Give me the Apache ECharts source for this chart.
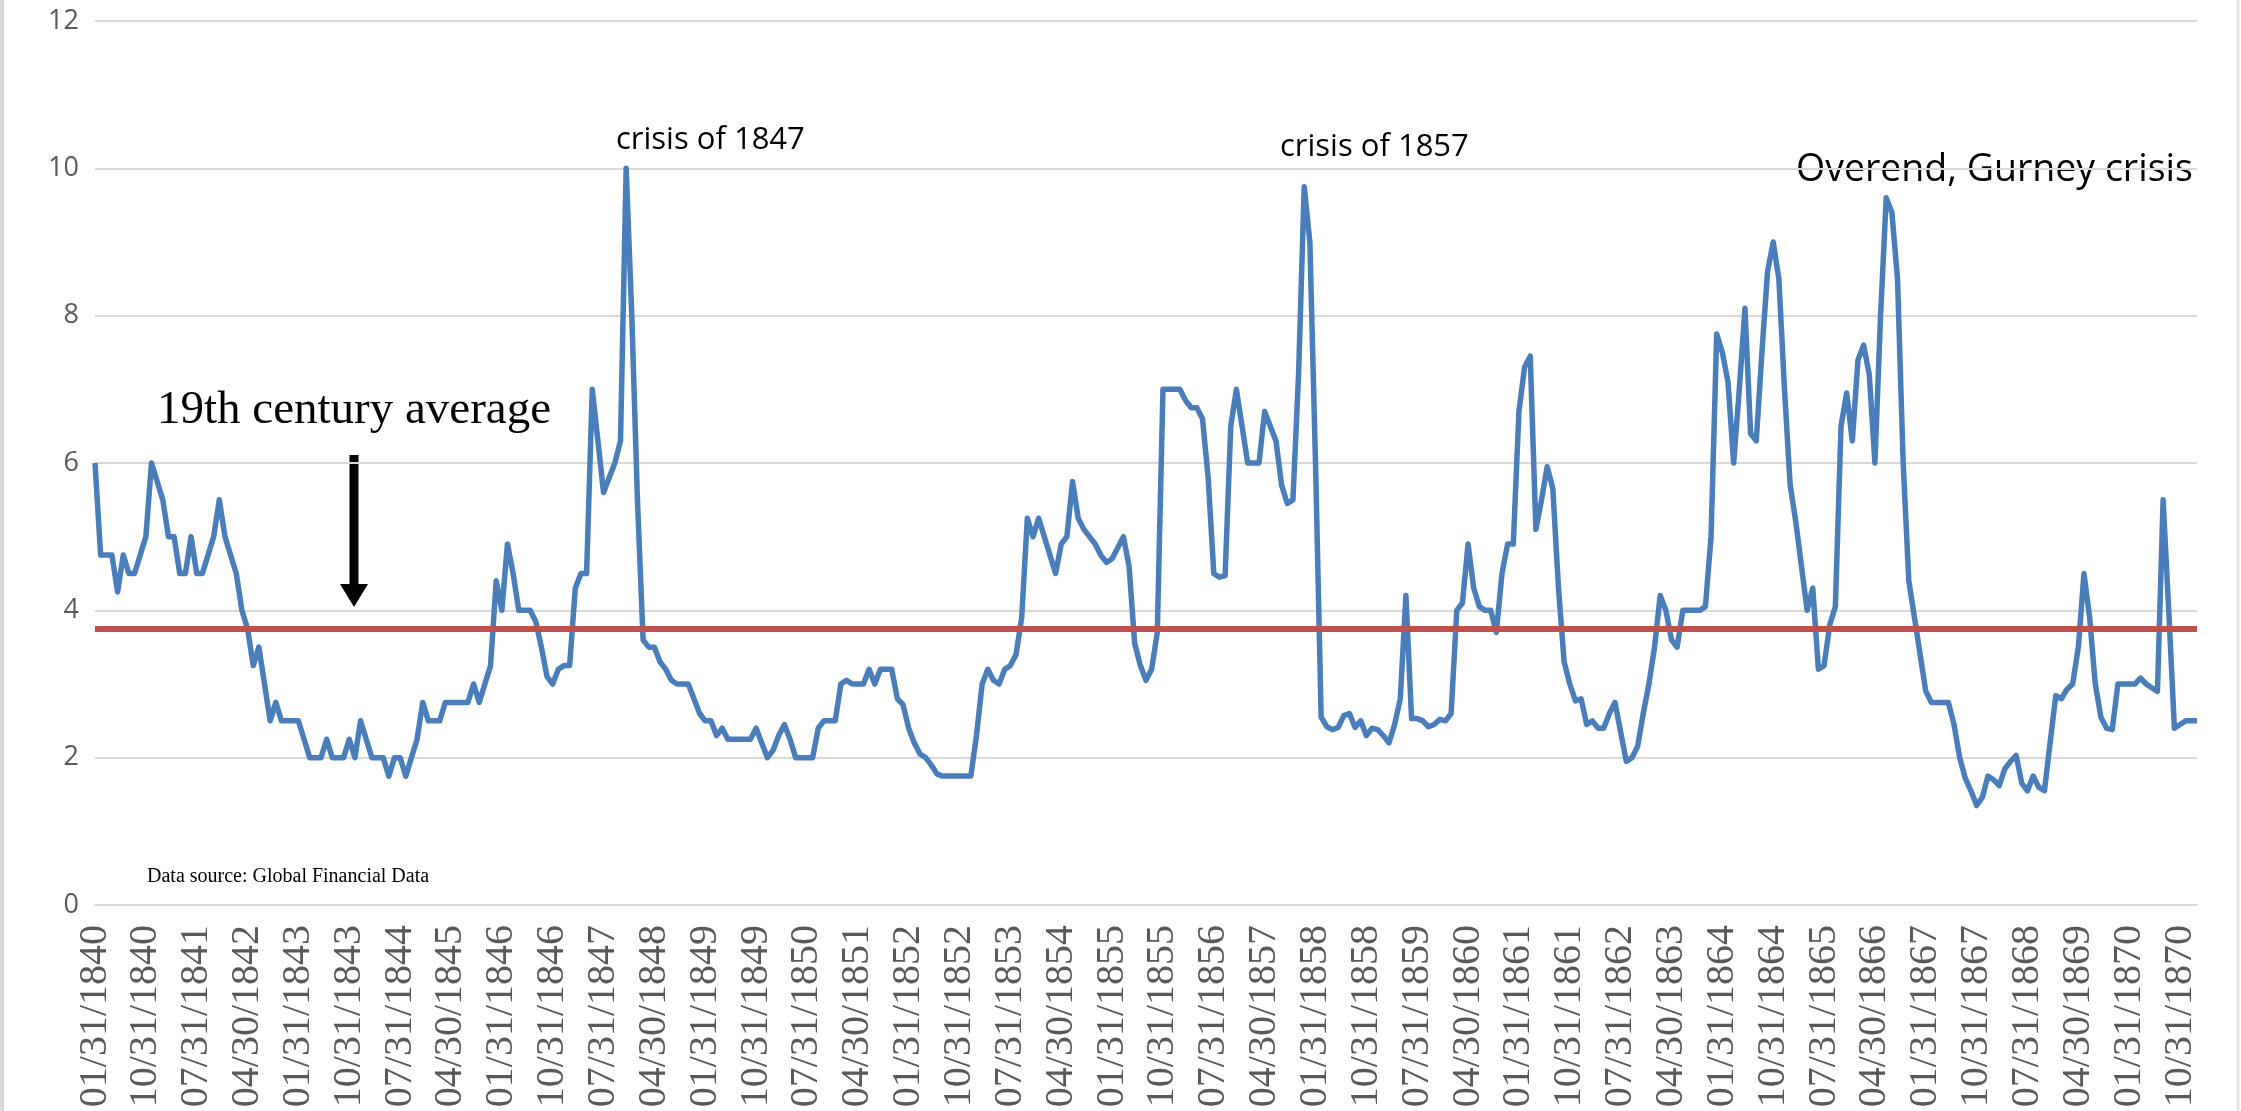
<!DOCTYPE html>
<html>
<head>
<meta charset="utf-8">
<title>Bank rate 1840-1870</title>
<script src="https://cdn.jsdelivr.net/npm/echarts@6/dist/echarts.min.js"></script>
<style>
    html, body { margin: 0; padding: 0; background: #fff; }
    #rateChart { width: 2241px; height: 1111px; }
</style>
</head>
<body>
<div id="rateChart"></div>
<script>
// monthly rate (one row per year)
const rates1840s = [
    6.0, 4.75, 4.75, 4.75, 4.25, 4.75, 4.5, 4.5, 4.75, 5.0, 6.0, 5.75,
    5.5, 5.0, 5.0, 4.5, 4.5, 5.0, 4.5, 4.5, 4.75, 5.0, 5.5, 5.0,
    4.75, 4.5, 4.0, 3.75, 3.25, 3.5, 3.0, 2.5, 2.75, 2.5, 2.5, 2.5,
    2.5, 2.25, 2.0, 2.0, 2.0, 2.25, 2.0, 2.0, 2.0, 2.25, 2.0, 2.5,
    2.25, 2.0, 2.0, 2.0, 1.75, 2.0, 2.0, 1.75, 2.0, 2.25, 2.75, 2.5,
    2.5, 2.5, 2.75, 2.75, 2.75, 2.75, 2.75, 3.0, 2.75, 3.0, 3.25, 4.4,
    4.0, 4.9, 4.5, 4.0, 4.0, 4.0, 3.85, 3.5, 3.1, 3.0, 3.2, 3.25,
    3.25, 4.3, 4.5, 4.5, 7.0, 6.3, 5.6, 5.8, 6.0, 6.3, 10.0, 8.0,
    5.5, 3.6, 3.5, 3.5, 3.3, 3.2, 3.05, 3.0, 3.0, 3.0, 2.8, 2.6,
    2.5, 2.5, 2.3, 2.4, 2.25, 2.25, 2.25, 2.25, 2.25, 2.4, 2.2, 2.0,
]
const rates1850s = [
    2.1, 2.3, 2.45, 2.25, 2.0, 2.0, 2.0, 2.0, 2.4, 2.5, 2.5, 2.5,
    3.0, 3.05, 3.0, 3.0, 3.0, 3.2, 3.0, 3.2, 3.2, 3.2, 2.8, 2.72,
    2.4, 2.2, 2.05, 2.0, 1.9, 1.78, 1.75, 1.75, 1.75, 1.75, 1.75, 1.75,
    2.3, 3.0, 3.2, 3.05, 3.0, 3.2, 3.25, 3.4, 3.9, 5.25, 5.0, 5.25,
    5.0, 4.75, 4.5, 4.9, 5.0, 5.75, 5.25, 5.1, 5.0, 4.9, 4.75, 4.65,
    4.7, 4.85, 5.0, 4.6, 3.55, 3.25, 3.05, 3.2, 3.7, 7.0, 7.0, 7.0,
    7.0, 6.85, 6.75, 6.75, 6.6, 5.8, 4.5, 4.45, 4.47, 6.5, 7.0, 6.5,
    6.0, 6.0, 6.0, 6.7, 6.5, 6.3, 5.7, 5.45, 5.5, 7.2, 9.75, 9.0,
    6.0, 2.55, 2.42, 2.38, 2.41, 2.57, 2.6, 2.41, 2.5, 2.3, 2.4, 2.38,
    2.3, 2.2, 2.45, 2.8, 4.2, 2.53, 2.53, 2.5, 2.42, 2.45, 2.52, 2.5,
]
const rates1860s = [
    2.6, 4.0, 4.1, 4.9, 4.3, 4.05, 4.0, 4.0, 3.7, 4.5, 4.9, 4.9,
    6.7, 7.3, 7.45, 5.1, 5.5, 5.95, 5.65, 4.3, 3.3, 3.0, 2.77, 2.8,
    2.45, 2.5, 2.4, 2.4, 2.6, 2.75, 2.35, 1.95, 2.0, 2.15, 2.6, 3.0,
    3.5, 4.2, 4.0, 3.6, 3.5, 4.0, 4.0, 4.0, 4.0, 4.05, 5.0, 7.75,
    7.5, 7.1, 6.0, 7.0, 8.1, 6.4, 6.3, 7.5, 8.6, 9.0, 8.5, 7.0,
    5.7, 5.2, 4.6, 4.0, 4.3, 3.2, 3.25, 3.8, 4.05, 6.5, 6.95, 6.3,
    7.4, 7.6, 7.2, 6.0, 8.0, 9.6, 9.4, 8.5, 6.0, 4.4, 3.9, 3.4,
    2.9, 2.75, 2.75, 2.75, 2.75, 2.45, 2.0, 1.72, 1.55, 1.35, 1.46, 1.75,
    1.7, 1.62, 1.85, 1.95, 2.03, 1.65, 1.55, 1.75, 1.6, 1.55, 2.2, 2.84,
    2.8, 2.93, 3.0, 3.5, 4.5, 3.9, 3.0, 2.55, 2.4, 2.38, 3.0, 3.0,
]
const rates1870s = [
    3.0, 3.0, 3.08, 3.0, 2.95, 2.9, 5.5, 4.0, 2.4, 2.45, 2.5, 2.5,
    2.5,
]
const centuryAverage = 3.75
const startYear = 1840
const yTicks = { min: 0, max: 12, step: 2 }

const rates = rates1840s.concat(rates1850s, rates1860s, rates1870s)

// month-end dates as MM/DD/YYYY
function pad2(n) {
    return n < 10 ? '0' + n : '' + n
}
const monthEnds = rates.map((v, i) => {
    let year = startYear + Math.floor(i / 12)
    let month = i % 12
    let day = new Date(year, month + 1, 0).getDate()
    return pad2(month + 1) + '/' + pad2(day) + '/' + year
})

const rateChart = document.querySelector('#rateChart')

function noteText(x, y, text, size, family) {
    return {
        type: 'text',
        x: x,
        y: y,
        style: {
            text: text,
            fill: '#000000',
            fontSize: size,
            fontFamily: family,
            verticalAlign: 'middle',
        },
    }
}

function paintRateChart(dom) {
    let myChart = echarts.init(dom)
    let option
    option = {
        animation: false,
        backgroundColor: '#ffffff',
        grid: {
            left: 95,
            right: 44,
            top: 21,
            bottom: 206,
        },
        xAxis: {
            type: 'category',
            data: monthEnds,
            boundaryGap: false,
            axisLine: { lineStyle: { color: '#d9d9d9', width: 2 } },
            axisTick: { show: false },
            axisLabel: {
                interval: 8,
                rotate: 90,
                margin: 20,
                color: '#595959',
                fontFamily: '"Liberation Serif", serif',
                fontSize: 40,
            },
            splitLine: { show: false },
        },
        yAxis: {
            type: 'value',
            min: yTicks.min,
            max: yTicks.max,
            interval: yTicks.step,
            axisLine: { show: false },
            axisTick: { show: false },
            axisLabel: {
                margin: 16,
                color: '#595959',
                fontFamily: '"Open Sans", sans-serif',
                fontSize: 27,
            },
            splitLine: { lineStyle: { color: '#d9d9d9', width: 2 } },
        },
        series: [
            {
                name: 'rate',
                type: 'line',
                data: rates,
                showSymbol: false,
                lineStyle: { color: '#4a7ebb', width: 5.5, join: 'round' },
                itemStyle: { color: '#4a7ebb' },
                z: 3,
                markLine: {
                    silent: true,
                    symbol: ['none', 'none'],
                    label: { show: false },
                    lineStyle: { color: '#c0504d', width: 6, type: 'solid' },
                    data: [{ yAxis: centuryAverage }],
                    z: 4,
                },
            },
        ],
        graphic: [
            /* chart frame edges */
            { type: 'line', shape: { x1: 2, y1: 0, x2: 2, y2: 1111 }, style: { stroke: '#d9d9d9', lineWidth: 4 } },
            { type: 'line', shape: { x1: 2238, y1: 0, x2: 2238, y2: 1111 }, style: { stroke: '#e6e6e6', lineWidth: 3 } },
            /* crisis labels */
            noteText(616, 140, 'crisis of 1847', 31, '"Open Sans", sans-serif'),
            noteText(1280, 147, 'crisis of 1857', 31, '"Open Sans", sans-serif'),
            noteText(1796, 170, 'Overend, Gurney crisis', 37.5, '"Open Sans", sans-serif'),
            noteText(157, 411, '19th century average', 47, '"Liberation Serif", serif'),
            /* arrow to the average line */
            { type: 'line', shape: { x1: 354, y1: 455, x2: 354, y2: 588 }, style: { stroke: '#000', lineWidth: 9 } },
            {
                type: 'polygon',
                shape: { points: [[340, 584], [368, 584], [354, 607]] },
                style: { fill: '#000' },
            },
            noteText(147, 877, 'Data source: Global Financial Data', 20, '"Liberation Serif", serif'),
        ],
    }
    myChart.setOption(option)
}

paintRateChart(rateChart) //rate line
</script>
</body>
</html>
